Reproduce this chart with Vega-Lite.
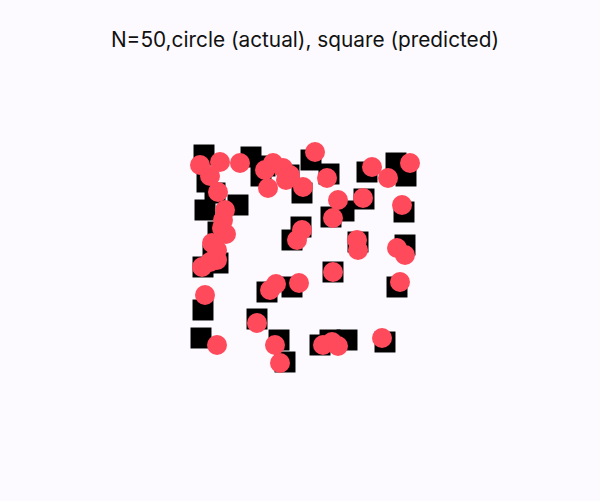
{
  "$schema": "https://vega.github.io/schema/vega-lite/v6.json",
  "width": 600,
  "height": 501,
  "autosize": "none",
  "padding": 0,
  "background": "#fcfaff",
  "title": {
    "text": "N=50,circle (actual), square (predicted)",
    "font": "Inter",
    "fontSize": 20.8,
    "fontWeight": "normal",
    "color": "#111111",
    "anchor": "middle",
    "dx": 5,
    "offset": -52
  },
  "config": {"view": {"stroke": null}},
  "datasets": {
    "predicted": [
      {"x": 204, "y": 155}, {"x": 251, "y": 157}, {"x": 265, "y": 166}, {"x": 261, "y": 176},
      {"x": 289, "y": 175}, {"x": 302, "y": 193}, {"x": 311, "y": 160}, {"x": 329, "y": 174},
      {"x": 367, "y": 172}, {"x": 396, "y": 163}, {"x": 406, "y": 176}, {"x": 364, "y": 199},
      {"x": 344, "y": 211}, {"x": 331, "y": 217}, {"x": 404, "y": 212}, {"x": 301, "y": 227},
      {"x": 292, "y": 240}, {"x": 358, "y": 242}, {"x": 405, "y": 245}, {"x": 207, "y": 182},
      {"x": 215, "y": 193}, {"x": 205, "y": 210}, {"x": 238, "y": 205}, {"x": 218, "y": 232},
      {"x": 213, "y": 255}, {"x": 203, "y": 267}, {"x": 218, "y": 263}, {"x": 203, "y": 310},
      {"x": 201, "y": 338}, {"x": 267, "y": 292}, {"x": 292, "y": 287}, {"x": 333, "y": 272},
      {"x": 257, "y": 319}, {"x": 279, "y": 340}, {"x": 285, "y": 362}, {"x": 320, "y": 345},
      {"x": 330, "y": 340}, {"x": 347, "y": 340}, {"x": 385, "y": 342}, {"x": 397, "y": 287}
    ],
    "actual": [
      {"x": 200, "y": 165}, {"x": 220, "y": 162}, {"x": 240, "y": 163}, {"x": 210, "y": 176},
      {"x": 218, "y": 192}, {"x": 225, "y": 210}, {"x": 223, "y": 220}, {"x": 222, "y": 228},
      {"x": 212, "y": 243}, {"x": 217, "y": 250}, {"x": 265, "y": 170}, {"x": 273, "y": 163},
      {"x": 283, "y": 168}, {"x": 290, "y": 175}, {"x": 268, "y": 188}, {"x": 303, "y": 187},
      {"x": 315, "y": 152}, {"x": 327, "y": 178}, {"x": 338, "y": 200}, {"x": 333, "y": 218},
      {"x": 302, "y": 230}, {"x": 297, "y": 240}, {"x": 363, "y": 198}, {"x": 357, "y": 240},
      {"x": 358, "y": 250}, {"x": 372, "y": 167}, {"x": 388, "y": 178}, {"x": 410, "y": 163},
      {"x": 402, "y": 205}, {"x": 397, "y": 248}, {"x": 405, "y": 255}, {"x": 202, "y": 267},
      {"x": 217, "y": 260}, {"x": 205, "y": 295}, {"x": 270, "y": 290}, {"x": 276, "y": 284},
      {"x": 299, "y": 283}, {"x": 333, "y": 272}, {"x": 400, "y": 282}, {"x": 257, "y": 323},
      {"x": 217, "y": 345}, {"x": 275, "y": 345}, {"x": 280, "y": 363}, {"x": 323, "y": 345},
      {"x": 332, "y": 342}, {"x": 338, "y": 346}, {"x": 382, "y": 338}, {"x": 226, "y": 234},
      {"x": 210, "y": 262}, {"x": 286, "y": 180}
    ]
  },
  "layer": [
    {
      "data": {"name": "predicted"},
      "mark": {"type": "square", "filled": true, "color": "#000000", "size": 440, "opacity": 1},
      "encoding": {
        "x": {"field": "x", "type": "quantitative", "scale": {"domain": [0, 600]}, "axis": null},
        "y": {"field": "y", "type": "quantitative", "scale": {"domain": [0, 501], "reverse": true}, "axis": null}
      }
    },
    {
      "data": {"name": "actual"},
      "mark": {"type": "circle", "color": "#fe4a5a", "size": 400, "opacity": 1},
      "encoding": {
        "x": {"field": "x", "type": "quantitative", "scale": {"domain": [0, 600]}, "axis": null},
        "y": {"field": "y", "type": "quantitative", "scale": {"domain": [0, 501], "reverse": true}, "axis": null}
      }
    }
  ]
}
